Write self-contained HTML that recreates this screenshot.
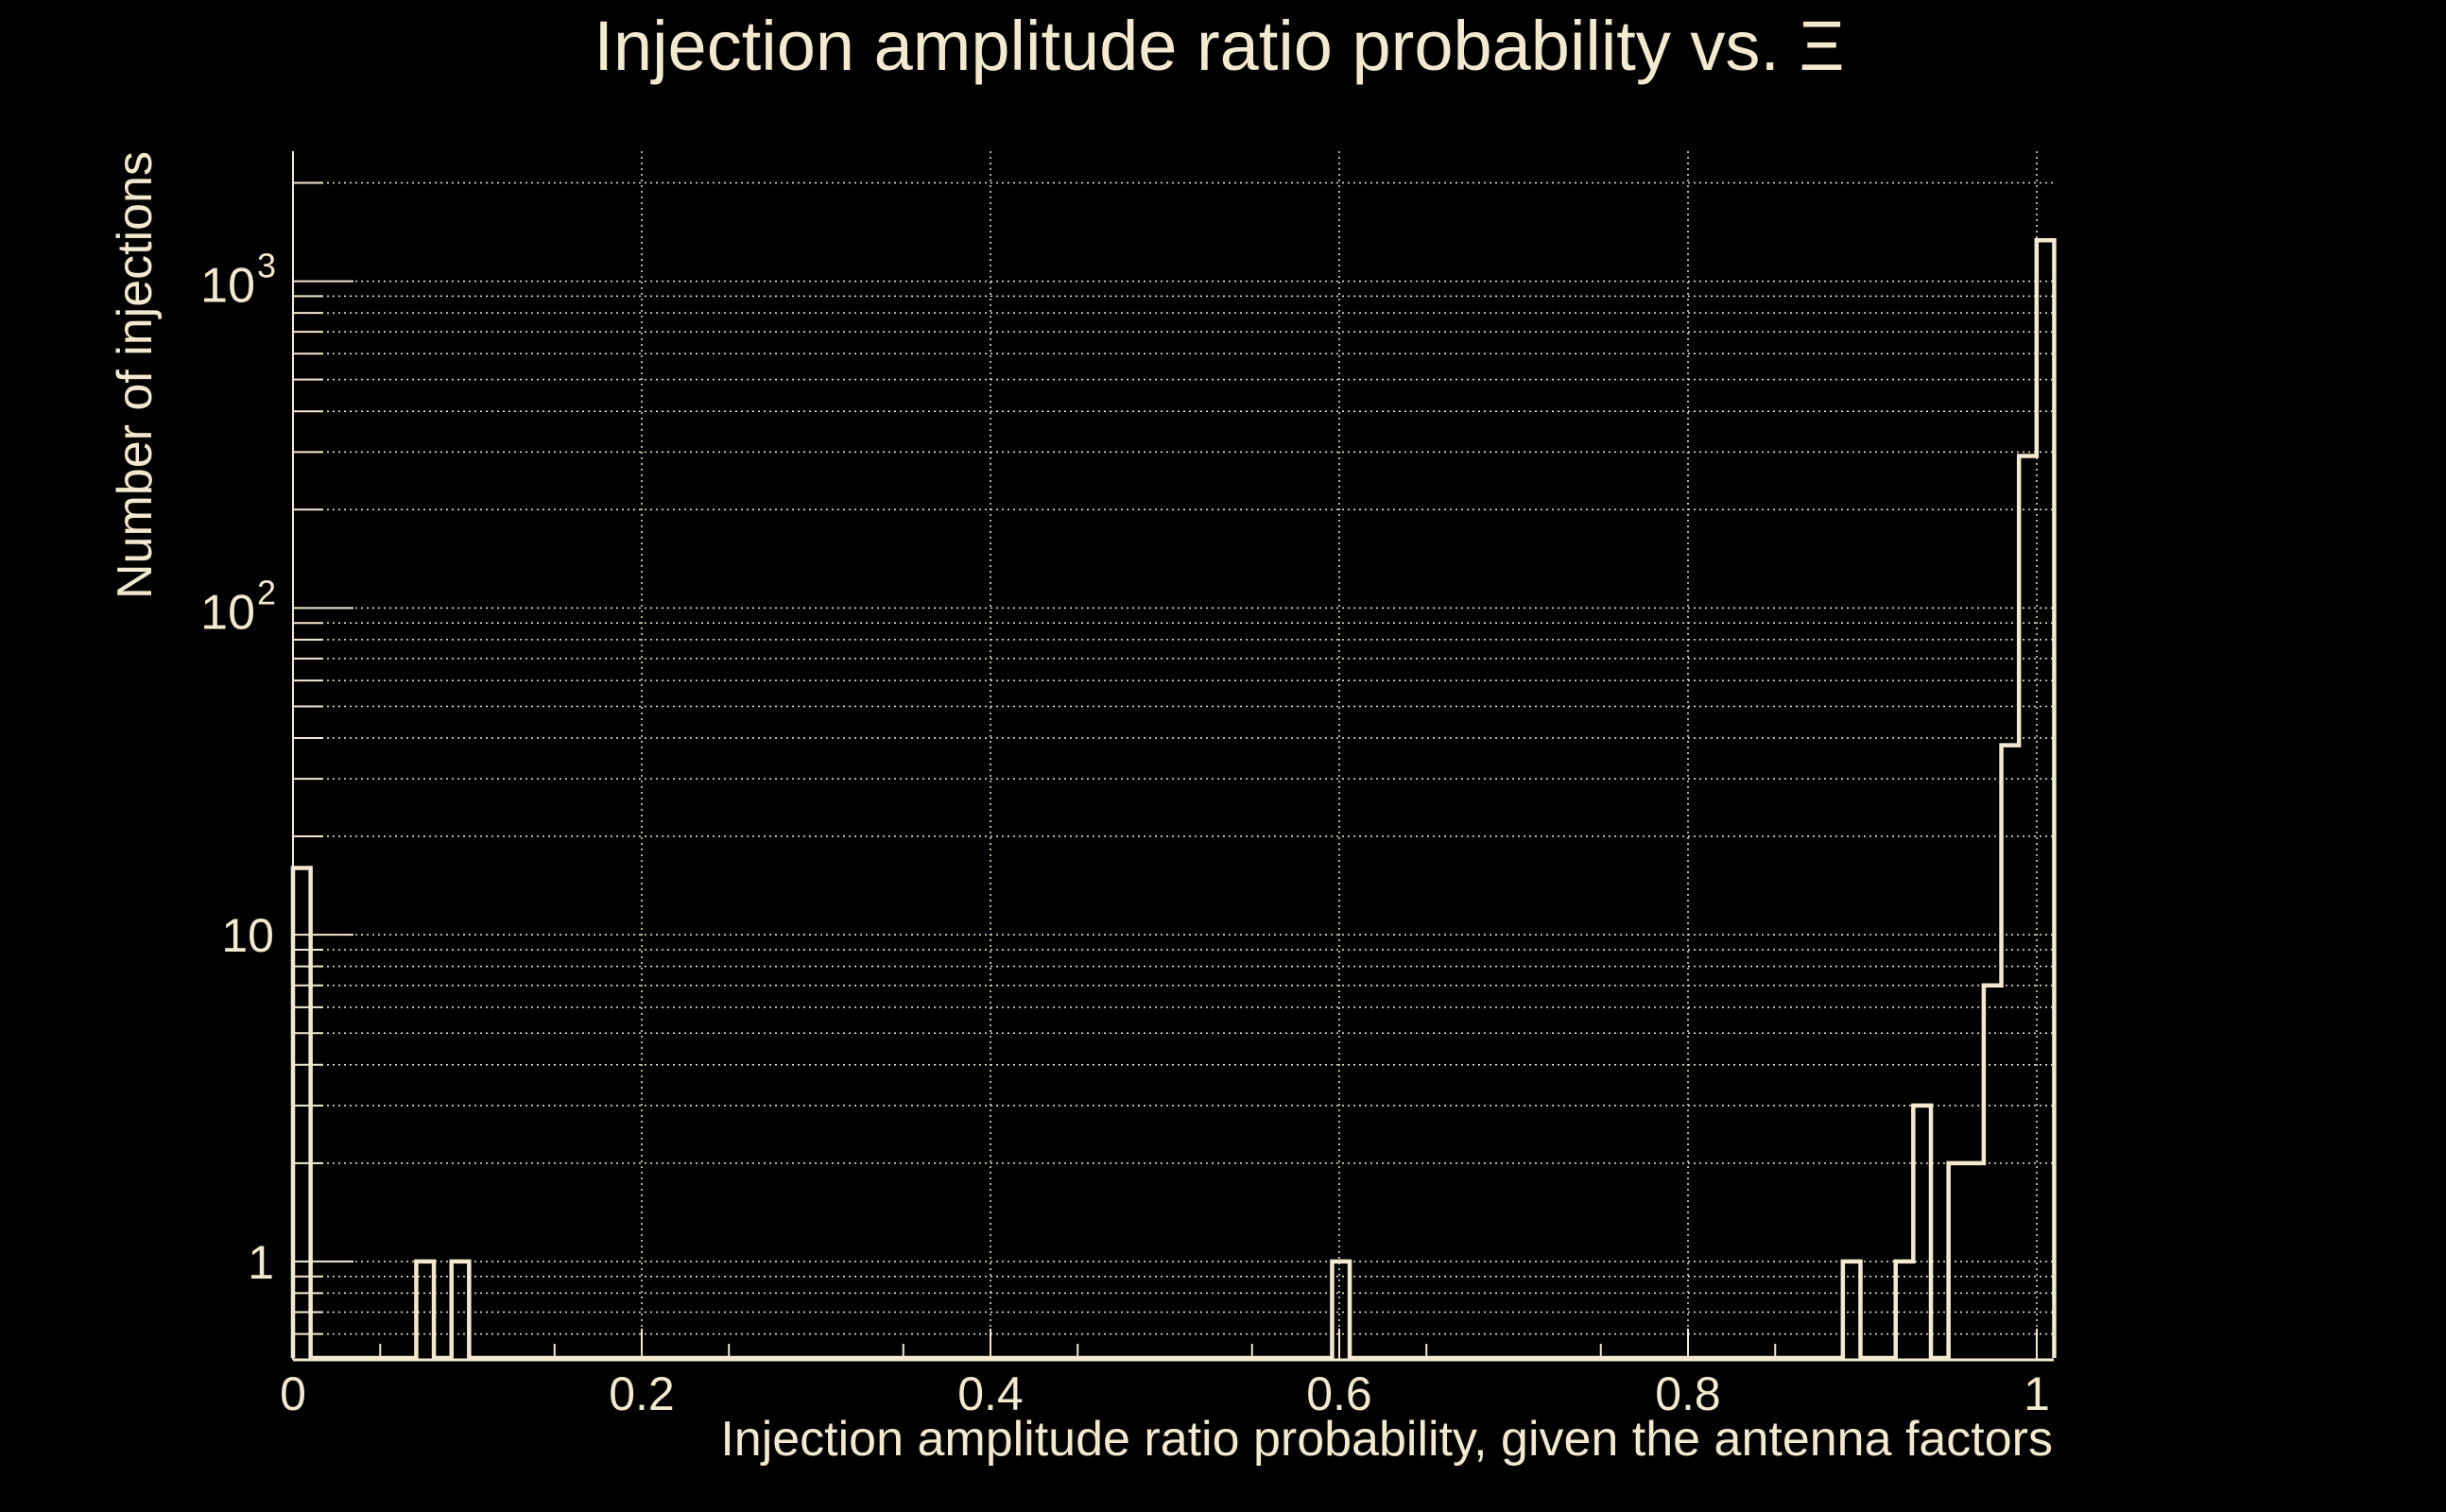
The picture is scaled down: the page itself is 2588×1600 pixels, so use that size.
<!DOCTYPE html>
<html><head><meta charset="utf-8"><style>
html,body{margin:0;padding:0;background:#000;}
svg{display:block;}
text{font-family:"Liberation Sans",sans-serif;fill:#f3e9cf;}
</style></head><body>
<svg id="chart" width="2588" height="1600" viewBox="0 0 2588 1600" xmlns="http://www.w3.org/2000/svg">
<rect width="2588" height="1600" fill="#000"/>
<text x="1290" y="74" font-size="74" text-anchor="middle">Injection amplitude ratio probability vs.  Ξ</text>
<text x="2172" y="1540" font-size="52" text-anchor="end">Injection amplitude ratio probability, given the antenna factors</text>
<text transform="translate(160,160) rotate(-90)" font-size="52" text-anchor="end">Number of injections</text>
<g id="grid"></g>
<g id="ticks"></g>
<g id="labels"></g>
<path id="hist" fill="none" stroke="#f3e9cf" stroke-width="4.5" stroke-linejoin="miter"/>
<line x1="310" y1="160" x2="310" y2="1439" stroke="#f3e9cf" stroke-width="2"/>
<line x1="310" y1="1439" x2="2173" y2="1439" stroke="#f3e9cf" stroke-width="3"/>
</svg>
<script>
const binWidth = 0.0101;
const binIndex = [0, 7, 9, 59, 88, 91, 92, 94, 95, 96, 97, 98, 99];
const binCounts = [16, 1, 1, 1, 1, 1, 3, 2, 2, 7, 38, 292, 1335];
const xTicks = [0, 0.2, 0.4, 0.6, 0.8, 1];
const xTickLabels = ["0", "0.2", "0.4", "0.6", "0.8", "1"];
const yDecades = [1, 10, 100, 1000];
const yTickBase = ["1", "10", "10", "10"];
const yTickExp = ["", "", "2", "3"];

const L=310, R=2173, T=160, B=1439;
const xMin=0, xMax=(2173-310)/1845, yMin=0.5, yMax=2500;
function xs(v){return L+(v-xMin)/(xMax-xMin)*(R-L);}
function ys(v){const lv=Math.log10(Math.max(v,yMin));return B-(lv-Math.log10(yMin))/(Math.log10(yMax)-Math.log10(yMin))*(B-T);}
const NS="http://www.w3.org/2000/svg";
function mk(tag,attrs,parent){const e=document.createElementNS(NS,tag);for(const k in attrs)e.setAttribute(k,attrs[k]);parent.appendChild(e);return e;}
const grid=document.getElementById('grid'),ticks=document.getElementById('ticks'),labels=document.getElementById('labels');
const C="#f3e9cf";
for(let d=-1; d<=3; d++){
  for(let m=1;m<=9;m++){
    const v=m*Math.pow(10,d);
    if(v<yMin||v>yMax) continue;
    const y=ys(v);
    const g=mk('line',{x1:L,x2:R,y1:y,y2:y,stroke:C,'stroke-width':1.5,'stroke-dasharray':'2 4'},grid);
    
    
    const t=mk('line',{x1:L,x2:L+(m===1?64:32),y1:y,y2:y,stroke:C,'stroke-width':2},ticks);
    
    
  }
}
yDecades.forEach((v,i)=>{
  const y=ys(v);
  if(yTickExp[i]){
    const tx=mk('text',{x:270,y:y+22,'font-size':52,'text-anchor':'end'},labels);
    tx.textContent=yTickBase[i];
    
    
    const sx=mk('text',{x:272,y:y-4,'font-size':36,'text-anchor':'start'},labels);
    sx.textContent=yTickExp[i];
    
    
  } else {
    const tx=mk('text',{x:290,y:y+18,'font-size':50,'text-anchor':'end'},labels);
    tx.textContent=yTickBase[i];
    
    
  }
});
xTicks.forEach((v,i)=>{
  const x=xs(v);
  if(i>0){
    const g=mk('line',{x1:x,x2:x,y1:T,y2:B,stroke:C,'stroke-width':1.5,'stroke-dasharray':'2 4'},grid);
    
    
  }
  const t=mk('line',{x1:x,x2:x,y1:B,y2:B-33,stroke:C,'stroke-width':2},ticks);
  
  
  const tx=mk('text',{x:x,y:1492,'font-size':50,'text-anchor':'middle'},labels);
  tx.textContent=xTickLabels[i];
  
  
});
for(let k=0;k<10;k++){
  const x=xs(0.05+0.1*k);
  const t=mk('line',{x1:x,x2:x,y1:B,y2:B-17,stroke:C,'stroke-width':2},ticks);
  
  
}
const nb=100; const counts=new Array(nb).fill(0);
binIndex.forEach((b,i)=>{counts[b]=binCounts[i];});
let d="M"+xs(0)+","+(B-2);
for(let b=0;b<nb;b++){
  const x0=xs(b*binWidth),x1=xs((b+1)*binWidth);
  const y=counts[b]>0?ys(counts[b]):B-2;
  d+=" L"+x0+","+y+" L"+x1+","+y;
}
d+=" L"+xs(nb*binWidth)+","+(B-2);
document.getElementById('hist').setAttribute('d',d);
</script>
</body></html>
